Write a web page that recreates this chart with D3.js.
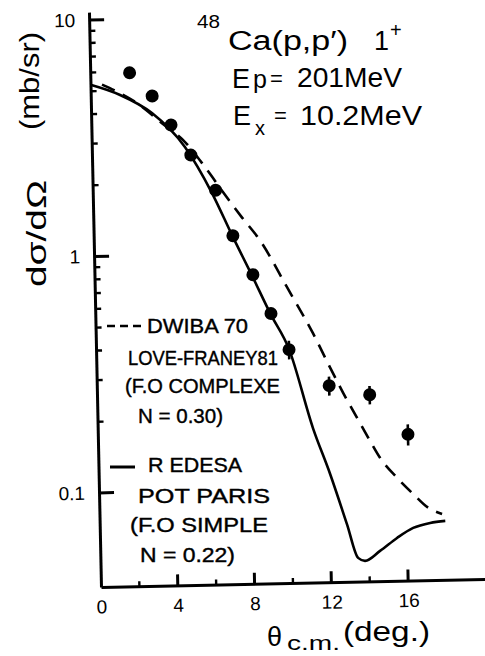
<!DOCTYPE html>
<html><head><meta charset="utf-8">
<script src="https://cdn.jsdelivr.net/npm/d3@7"></script>
<style>
body{margin:0;background:#fff}
svg{display:block}
text{font-family:"Liberation Sans",Arial,sans-serif;fill:#000}
</style>
</head><body>
<svg id="c" width="485" height="656"></svg>
<script>
// Experimental points
const expAngle = [2.05, 3.2, 4.15, 5.15, 6.4, 7.25, 8.25, 9.15, 10.05, 12.1, 14.2, 16.15];
const expValue = [5.93, 4.71, 3.54, 2.63, 1.86, 1.19, 0.81, 0.553, 0.388, 0.271, 0.246, 0.166];
const expErr   = [0, 0, 0, 0, 0, 0, 0, 0, 0.035, 0.025, 0.022, 0.017];
// REDESA / POT PARIS (solid)
const redesaAngle = [0, 1.53, 3.17, 4.85, 6.21, 7.26, 8.2, 9.13, 10.05, 11.21, 12.05, 12.88, 13.42, 13.78, 14.57, 15.47, 16.32, 17.21, 18.0];
const redesaValue = [5.32, 4.79, 3.99, 2.85, 1.81, 1.17, 0.805, 0.55, 0.39, 0.18, 0.115, 0.070, 0.0504, 0.0489, 0.0537, 0.0607, 0.0667, 0.0698, 0.071];
// DWIBA 70 / LOVE-FRANEY81 (dashed)
const dwibaAngle = [0.6, 1.42, 2.3, 3.68, 4.86, 5.88, 6.79, 7.74, 8.66, 10.02, 11.32, 12.17, 12.82, 13.52, 14.17, 14.67, 15.54, 16.35, 17.12, 17.84];
const dwibaValue = [5.32, 4.93, 4.47, 3.61, 2.99, 2.33, 1.82, 1.42, 1.13, 0.711, 0.452, 0.323, 0.252, 0.197, 0.157, 0.133, 0.109, 0.093, 0.081, 0.076];
// Ticks
const xTickLabels = [0, 4, 8, 12, 16];
const xMinorTicks = [2, 6, 10, 14];
const yTickLabels = [0.1, 1, 10];
const yMinorTicks = [0.2,0.3,0.4,0.5,0.6,0.7,0.8,0.9,2,3,4,5,6,7,8,9];

const svg = d3.select("#c");
const W = 384, H = 575;
const x = d3.scaleLinear().domain([0, 20]).range([0, W]);
const y = d3.scaleLog().domain([0.04, 10.8]).range([0, -H]);

const g = svg.append("g").attr("transform", "translate(101,587) rotate(-1.2)");

// Axes (labels + domain from d3 axes)
g.append("g").call(d3.axisBottom(x).tickValues(xTickLabels).tickSize(0).tickSizeOuter(0).tickPadding(13).tickFormat(d3.format("d")));
g.append("g").call(d3.axisLeft(y).tickValues(yTickLabels).tickSize(0).tickSizeOuter(0).tickPadding(14).tickFormat(d => String(d)));
g.selectAll(".domain").attr("stroke", "#000").attr("stroke-width", 3);
g.selectAll(".tick text").attr("font-size", 19).attr("font-family", "'Liberation Sans',Arial,sans-serif").attr("fill", "#000");

// inward tick marks
const majPath = [], minPath = [];
xTickLabels.filter(d => d > 0).forEach(d => majPath.push(`M${x(d)},0V-11`));
yTickLabels.forEach(d => majPath.push(`M0,${y(d)}H15`));
xMinorTicks.forEach(d => minPath.push(`M${x(d)},0V-5`));
yMinorTicks.forEach(d => minPath.push(`M0,${y(d)}H6`));
g.append("path").attr("d", majPath.join("")).attr("fill", "none")
  .attr("stroke", "#000").attr("stroke-width", 3);
g.append("path").attr("d", minPath.join("")).attr("fill", "none")
  .attr("stroke", "#000").attr("stroke-width", 2.4);

const line = d3.line().x(d => x(d[0])).y(d => y(d[1])).curve(d3.curveMonotoneX);

g.append("path").datum(redesaAngle.map((a, i) => [a, redesaValue[i]]))
  .attr("d", line).attr("fill", "none").attr("stroke", "#000").attr("stroke-width", 2.6);
g.append("path").datum(dwibaAngle.map((a, i) => [a, dwibaValue[i]]))
  .attr("d", line).attr("fill", "none").attr("stroke", "#000").attr("stroke-width", 2.6)
  .attr("stroke-dasharray", "14,9");

// error bars
const pts = expAngle.map((a, i) => ({a, v: expValue[i], e: expErr[i]}));
g.selectAll("line.err").data(pts.filter(p => p.e > 0)).join("line").attr("class", "err")
  .attr("x1", p => x(p.a)).attr("x2", p => x(p.a))
  .attr("y1", p => y(p.v - p.e)).attr("y2", p => y(p.v + p.e))
  .attr("stroke", "#000").attr("stroke-width", 2.6);
g.selectAll("circle.pt").data(pts).join("circle").attr("class", "pt")
  .attr("cx", p => x(p.a)).attr("cy", p => y(p.v)).attr("r", 6.5).attr("fill", "#000");

// Texts
function txt(str, xx, yy, size, len) {
  const t = svg.append("text").attr("x", xx).attr("y", yy).attr("font-size", size).text(str);
  if (len) t.attr("textLength", len).attr("lengthAdjust", "spacingAndGlyphs");
  return t;
}
// title block
txt("48", 197, 28, 19, 23);
txt("Ca(p,p′)", 228, 50, 27, 120);
txt("1", 374, 50, 27);
txt("+", 390, 37, 20);
txt("E", 232, 88, 27);
txt("p", 253, 88, 25);
txt("=", 270, 86, 22);
txt("201MeV", 297, 87, 27, 105);
txt("E", 233, 125, 27);
txt("x", 255, 135, 20);
txt("=", 274, 123, 22);
txt("10.2MeV", 300, 125, 27, 122);

// Legend
svg.append("line").attr("x1", 107).attr("x2", 143).attr("y1", 326).attr("y2", 326)
  .attr("stroke", "#000").attr("stroke-width", 2.4).attr("stroke-dasharray", "8,5");
const leg = [
  txt("DWIBA 70", 147, 333, 21, 101),
  txt("LOVE-FRANEY81", 128, 365, 21, 150),
  txt("(F.O COMPLEXE", 125, 393, 21, 155),
  txt("N = 0.30)", 138, 423, 21, 85),
  txt("R EDESA", 148, 472, 21, 94),
  txt("POT  PARIS", 138, 503, 21, 132),
  txt("(F.O SIMPLE", 130, 532, 21, 138),
  txt("N = 0.22)", 140, 562, 21, 95)
];
leg.forEach(t => t.attr("stroke", "#000").attr("stroke-width", 0.4));
svg.append("line").attr("x1", 110).attr("x2", 135).attr("y1", 467).attr("y2", 467)
  .attr("stroke", "#000").attr("stroke-width", 3);

// Axis titles
svg.append("text").attr("transform", "translate(39,130) rotate(-90)").attr("font-size", 27)
  .attr("textLength", 98).attr("lengthAdjust", "spacingAndGlyphs").text("(mb/sr)");
svg.append("text").attr("transform", "translate(46,287) rotate(-90)").attr("font-size", 27)
  .attr("textLength", 107).attr("lengthAdjust", "spacingAndGlyphs").text("dσ/dΩ");
txt("θ", 267, 646, 27);
txt("c.m.", 287, 650, 21, 53);
txt("(deg.)", 343, 641, 27, 87);
</script>
</body></html>
